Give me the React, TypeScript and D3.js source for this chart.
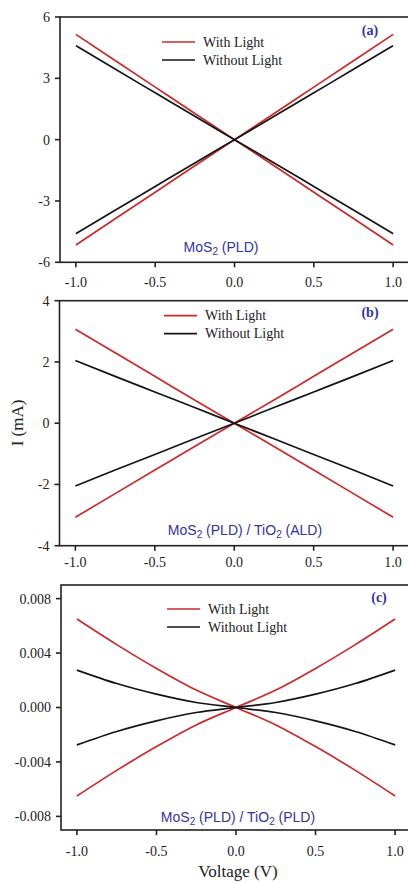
import React from 'react';
import * as d3 from 'd3';

// ---- data ----
const voltage = [-1, -0.75, -0.5, -0.25, 0, 0.25, 0.5, 0.75, 1];

const aWithLight = [-5.15, -3.86, -2.57, -1.28, 0, 1.28, 2.57, 3.86, 5.15];
const aWithoutLight = [-4.6, -3.44, -2.29, -1.14, 0, 1.14, 2.29, 3.44, 4.6];

const bWithLight = [-3.07, -2.3, -1.53, -0.76, 0, 0.76, 1.53, 2.3, 3.07];
const bWithoutLight = [-2.05, -1.53, -1.02, -0.51, 0, 0.51, 1.02, 1.53, 2.05];

const cWithLight = [-0.0065, -0.00462, -0.00287, -0.00128, 0, 0.00128, 0.00287, 0.00462, 0.0065];
const cWithoutLight = [-0.00275, -0.00176, -0.00098, -0.00037, 0, 0.00037, 0.00098, 0.00176, 0.00275];

const seriesNames = ['With Light', 'Without Light'];
const panelTags = ['(a)', '(b)', '(c)'];
const xTicks = [-1, -0.5, 0, 0.5, 1];
const aTicks = [-6, -3, 0, 3, 6];
const bTicks = [-4, -2, 0, 2, 4];
const cTicks = [-0.008, -0.004, 0, 0.004, 0.008];
const aDomain = [-6, 6];
const bDomain = [-4, 4];
const cDomain = [-0.009, 0.009];
const xDomain = [-1.1, 1.1];

const RED = '#cc2a2a';
const BLACK = '#151515';
const BLUE = '#3333a6';
const AXIS = '#222';
const SERIF = '"Liberation Serif", "Times New Roman", serif';
const SANS = '"Liberation Sans", Arial, sans-serif';

type Seg = { t: string; sub?: boolean };

interface PanelCfg {
  tag: string;
  light: number[];
  dark: number[];
  yTicks: number[];
  yDomain: number[];
  decimals: number;
  left: number;
  right: number;
  top: number;
  bottom: number;
  xLabelGap: number;
  legendX: number;
  legendY: number;
  tagX: number;
  tagY: number;
  matX: number;
  matY: number;
  material: Seg[];
}

const panels: PanelCfg[] = [
  {
    tag: panelTags[0], light: aWithLight, dark: aWithoutLight, yTicks: aTicks, yDomain: aDomain, decimals: 0,
    left: 60, right: 409, top: 17, bottom: 262.3, xLabelGap: 25,
    legendX: 162, legendY: 42, tagX: 370, tagY: 35, matX: 221, matY: 252,
    material: [{ t: 'MoS' }, { t: '2', sub: true }, { t: ' (PLD)' }],
  },
  {
    tag: panelTags[1], light: bWithLight, dark: bWithoutLight, yTicks: bTicks, yDomain: bDomain, decimals: 0,
    left: 59.5, right: 409, top: 300.7, bottom: 545.7, xLabelGap: 21.5,
    legendX: 164, legendY: 315.7, tagX: 370, tagY: 317, matX: 245, matY: 535,
    material: [{ t: 'MoS' }, { t: '2', sub: true }, { t: ' (PLD) / TiO' }, { t: '2', sub: true }, { t: ' (ALD)' }],
  },
  {
    tag: panelTags[2], light: cWithLight, dark: cWithoutLight, yTicks: cTicks, yDomain: cDomain, decimals: 3,
    left: 61, right: 411, top: 585, bottom: 830, xLabelGap: 26,
    legendX: 167, legendY: 609, tagX: 379, tagY: 602, matX: 238, matY: 822,
    material: [{ t: 'MoS' }, { t: '2', sub: true }, { t: ' (PLD) / TiO' }, { t: '2', sub: true }, { t: ' (PLD)' }],
  },
];

function fmt(v: number, d: number) {
  return Math.abs(v) < 1e-12 ? (0).toFixed(d) : v.toFixed(d);
}

function Panel({ p }: { p: PanelCfg }) {
  const x = d3.scaleLinear().domain(xDomain).range([p.left, p.right]);
  const y = d3.scaleLinear().domain(p.yDomain).range([p.bottom, p.top]);
  const line = d3
    .line<[number, number]>()
    .x((d) => x(d[0]))
    .y((d) => y(d[1]))
    .curve(d3.curveMonotoneX);
  const lightUp = line(voltage.map((v, i) => [v, p.light[i]] as [number, number])) || '';
  const lightDown = line(voltage.map((v, i) => [v, -p.light[i]] as [number, number])) || '';
  const darkUp = line(voltage.map((v, i) => [v, p.dark[i]] as [number, number])) || '';
  const darkDown = line(voltage.map((v, i) => [v, -p.dark[i]] as [number, number])) || '';

  return (
    <g>
      <path d={lightUp} fill="none" stroke={RED} strokeWidth={1.7} />
      <path d={lightDown} fill="none" stroke={RED} strokeWidth={1.7} />
      <path d={darkUp} fill="none" stroke={BLACK} strokeWidth={1.7} />
      <path d={darkDown} fill="none" stroke={BLACK} strokeWidth={1.7} />

      <rect x={p.left} y={p.top} width={p.right - p.left} height={p.bottom - p.top} fill="none" stroke={AXIS} strokeWidth={1.6} />

      {p.yTicks.map((t) => (
        <g key={'y' + t}>
          <line x1={p.left - 5} x2={p.left} y1={y(t)} y2={y(t)} stroke={AXIS} strokeWidth={1.6} />
          <text x={p.left - 10} y={y(t)} dy="0.35em" textAnchor="end" fontFamily={SERIF} fontSize={14} fill={AXIS}>
            {fmt(t, p.decimals)}
          </text>
        </g>
      ))}

      {xTicks.map((t) => (
        <g key={'x' + t}>
          <line x1={x(t)} x2={x(t)} y1={p.bottom} y2={p.bottom + 5} stroke={AXIS} strokeWidth={1.6} />
          <text x={x(t)} y={p.bottom + p.xLabelGap} textAnchor="middle" fontFamily={SERIF} fontSize={14} fill={AXIS}>
            {fmt(t, 1)}
          </text>
        </g>
      ))}

      {seriesNames.map((n, i) => (
        <g key={n}>
          <line
            x1={p.legendX}
            x2={p.legendX + 33}
            y1={p.legendY + i * 18}
            y2={p.legendY + i * 18}
            stroke={i === 0 ? RED : BLACK}
            strokeWidth={1.7}
          />
          <text x={p.legendX + 41} y={p.legendY + i * 18 + 4.5} fontFamily={SERIF} fontSize={14} fill={AXIS}>
            {n}
          </text>
        </g>
      ))}

      <text x={p.tagX} y={p.tagY} textAnchor="middle" fontFamily={SERIF} fontSize={14} fontWeight="bold" fill={BLUE}>
        {p.tag}
      </text>

      <text x={p.matX} y={p.matY} textAnchor="middle" fontFamily={SANS} fontSize={14} fill={BLUE}>
        {p.material.map((s, i) =>
          s.sub ? (
            <tspan key={i} fontSize={10} dy={3}>
              {s.t}
            </tspan>
          ) : (
            <tspan key={i} dy={i > 0 && p.material[i - 1].sub ? -3 : 0}>
              {s.t}
            </tspan>
          )
        )}
      </text>
    </g>
  );
}

export default function App() {
  return (
    <svg
      width={408}
      height={883}
      viewBox="0 0 408 883"
      style={{ position: 'absolute', left: 0, top: 0, background: '#fff' }}
    >
      <rect x={0} y={0} width={408} height={883} fill="#fff" />
      {panels.map((p) => (
        <Panel key={p.tag} p={p} />
      ))}
      <text
        transform="translate(23,423) rotate(-90)"
        textAnchor="middle"
        fontFamily={SERIF}
        fontSize={17}
        fill={AXIS}
      >
        I (mA)
      </text>
      <text x={238} y={877} textAnchor="middle" fontFamily={SERIF} fontSize={17} fill={AXIS}>
        Voltage (V)
      </text>
    </svg>
  );
}
